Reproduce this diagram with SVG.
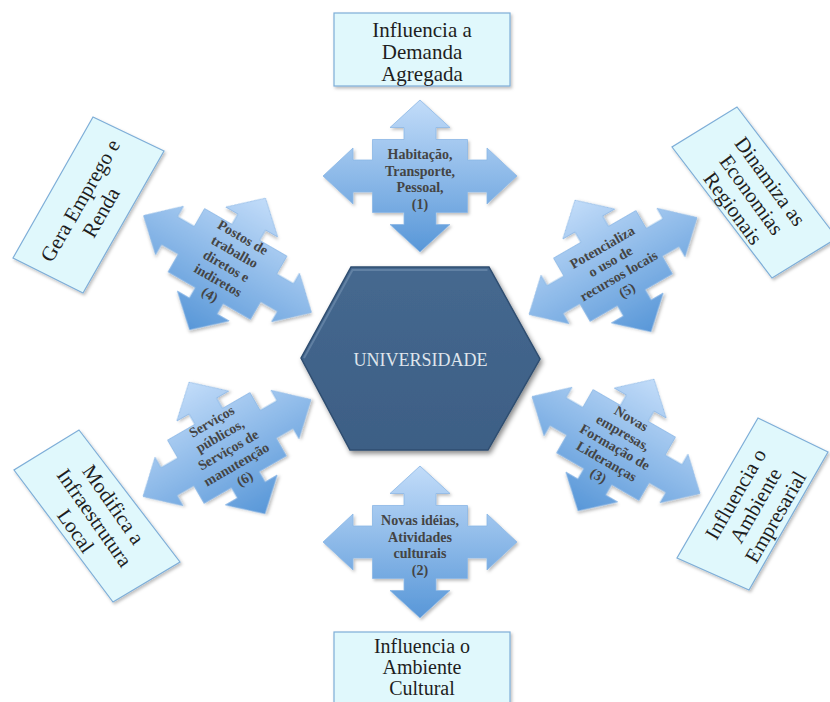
<svg xmlns="http://www.w3.org/2000/svg" xmlns:xlink="http://www.w3.org/1999/xlink" width="830" height="702" viewBox="0 0 830 702">
<style>
.box{fill:#e0f8fc;stroke:#7eaed8;stroke-width:1.2;filter:url(#sh)}
.bt{font-family:"Liberation Serif",serif;font-size:21px;fill:#1e1e1e;text-anchor:middle}
.at{font-family:"Liberation Serif",serif;font-size:14px;font-weight:bold;fill:#444444;text-anchor:middle}
.ut{font-family:"Liberation Serif",serif;font-size:18px;fill:#dfe5ec;text-anchor:middle}
</style>
<defs>
<linearGradient id="ag" x1="0" y1="0" x2="0" y2="1">
<stop offset="0" stop-color="#c2dcf9"/>
<stop offset="1" stop-color="#5897d8"/>
</linearGradient>
<linearGradient id="hg" x1="0" y1="0" x2="0" y2="1">
<stop offset="0" stop-color="#45688f"/>
<stop offset="1" stop-color="#3d5f85"/>
</linearGradient>
<filter id="sh" x="-20%" y="-20%" width="140%" height="140%">
<feDropShadow dx="1.5" dy="2" stdDeviation="1.5" flood-color="#000" flood-opacity="0.25"/>
</filter>
<filter id="hs" x="-20%" y="-20%" width="140%" height="140%">
<feDropShadow dx="2" dy="3" stdDeviation="2.5" flood-color="#000" flood-opacity="0.45"/>
</filter>
<path id="qa" fill="url(#ag)" stroke="#8cb8e6" stroke-width="0.8" filter="url(#sh)" d="M0,-76 L30,-48.5 L16,-48.5 L16,-36.5 L47.5,-36.5 L47.5,-16 L67,-16 L67,-28 L97,0 L67,28 L67,16 L47.5,16 L47.5,36.5 L16,36.5 L16,48.5 L30,48.5 L0,76 L-30,48.5 L-16,48.5 L-16,36.5 L-47.5,36.5 L-47.5,16 L-67,16 L-67,28 L-97,0 L-67,-28 L-67,-16 L-47.5,-16 L-47.5,-36.5 L-16,-36.5 L-16,-48.5 L-30,-48.5 Z"/>
</defs>
<rect width="830" height="702" fill="#ffffff"/>
<g id="connectors"/>

<g id="box-demanda">
<rect class="box" x="334" y="13" width="176" height="73"/>
<text class="bt"><tspan x="422" y="37">Influencia a</tspan><tspan x="422" y="59">Demanda</tspan><tspan x="422" y="81">Agregada</tspan></text>
</g>

<g id="box-cultural">
<rect class="box" x="334" y="632" width="176" height="80"/>
<text class="bt" style="font-size:20px"><tspan x="422" y="653">Influencia o</tspan><tspan x="422" y="674">Ambiente</tspan><tspan x="422" y="695">Cultural</tspan></text>
</g>

<g id="box-emprego">
<polygon class="box" points="93,117 164,151 83,293 13,258"/>
<text class="bt" transform="translate(88,205) rotate(-60)"><tspan x="0" y="-2">Gera Emprego e</tspan><tspan x="0" y="22">Renda</tspan></text>
</g>

<g id="box-economias">
<polygon class="box" points="737,107 837,238 772,278 672,147"/>
<text class="bt" transform="translate(754,193) rotate(54)"><tspan x="0" y="-13">Dinamiza as</tspan><tspan x="0" y="10">Economias</tspan><tspan x="0" y="33">Regionais</tspan></text>
</g>

<g id="box-infraestrutura">
<polygon class="box" points="79,430 180,562 113,602 14,470"/>
<text class="bt" transform="translate(97,516) rotate(55)"><tspan x="0" y="-13">Modifica a</tspan><tspan x="0" y="10">Infraestrutura</tspan><tspan x="0" y="33">Local</tspan></text>
</g>

<g id="box-empresarial">
<polygon class="box" points="758,418 828,452 749,590 677,558"/>
<text class="bt" transform="translate(753,504) rotate(-60)"><tspan x="0" y="-13">Influencia o</tspan><tspan x="0" y="10">Ambiente</tspan><tspan x="0" y="33">Empresarial</tspan></text>
</g>

<g id="universidade">
<polygon points="301,358 351,267 489,267 540,359 488,450 350,450" fill="url(#hg)" stroke="#2f4d70" stroke-width="1.5" filter="url(#hs)"/>
<polyline points="304,358 352.5,270 487.5,270" fill="none" stroke="#6d8bad" stroke-width="2" opacity="0.7"/>
<text class="ut" x="420.5" y="366">UNIVERSIDADE</text>
</g>

<g id="arrow1" transform="translate(420,176)">
<use xlink:href="#qa"/>
<text class="at"><tspan x="0" y="-17">Habitação,</tspan><tspan x="0" y="-0.5">Transporte,</tspan><tspan x="0" y="16">Pessoal,</tspan><tspan x="0" y="32.5">(1)</tspan></text>
</g>

<g id="arrow2" transform="translate(420,542)">
<use xlink:href="#qa"/>
<text class="at"><tspan x="0" y="-17">Novas idéias,</tspan><tspan x="0" y="-0.5">Atividades</tspan><tspan x="0" y="16">culturais</tspan><tspan x="0" y="32.5">(2)</tspan></text>
</g>

<g id="arrow4" transform="translate(227.5,264) rotate(30)">
<use xlink:href="#qa"/>
<text class="at"><tspan x="0" y="-26">Postos de</tspan><tspan x="0" y="-9.5">trabalho</tspan><tspan x="0" y="7">diretos e</tspan><tspan x="0" y="23.5">indiretos</tspan><tspan x="0" y="40">(4)</tspan></text>
</g>

<g id="arrow5" transform="translate(613,266) rotate(-30)">
<use xlink:href="#qa"/>
<text class="at"><tspan x="0" y="-17">Potencializa</tspan><tspan x="0" y="-0.5">o uso de</tspan><tspan x="0" y="16">recursos locais</tspan><tspan x="0" y="32.5">(5)</tspan></text>
</g>

<g id="arrow6" transform="translate(227,448) rotate(-30)">
<use xlink:href="#qa"/>
<text class="at"><tspan x="0" y="-26">Serviços</tspan><tspan x="0" y="-9.5">públicos,</tspan><tspan x="0" y="7">Serviços de</tspan><tspan x="0" y="23.5">manutenção</tspan><tspan x="0" y="40">(6)</tspan></text>
</g>

<g id="arrow3" transform="translate(616,445) rotate(30)">
<use xlink:href="#qa"/>
<text class="at"><tspan x="0" y="-26">Novas</tspan><tspan x="0" y="-9.5">empresas,</tspan><tspan x="0" y="7">Formação de</tspan><tspan x="0" y="23.5">Lideranças</tspan><tspan x="0" y="40">(3)</tspan></text>
</g>
</svg>
